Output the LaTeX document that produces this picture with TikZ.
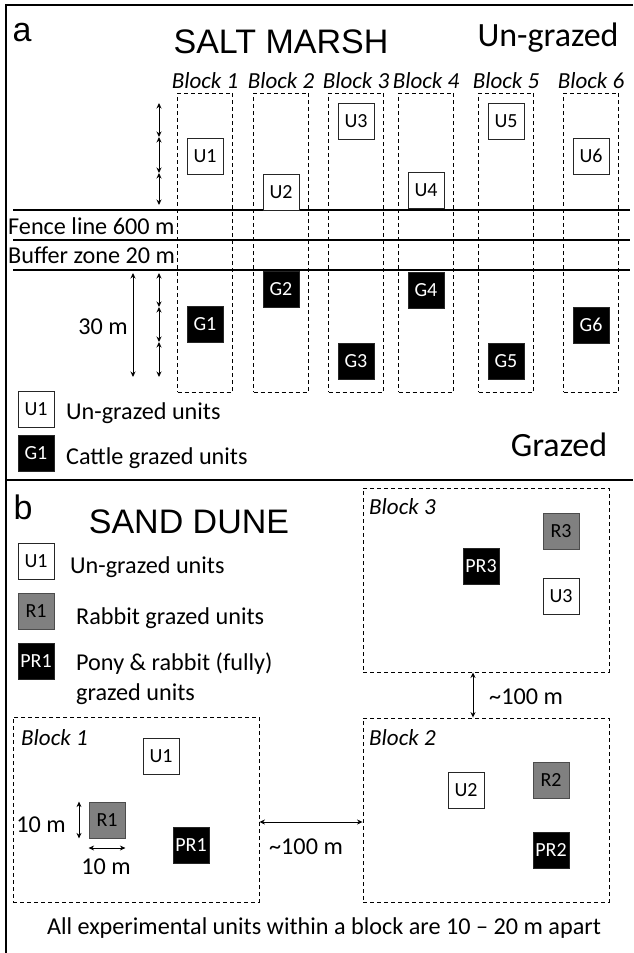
\documentclass[tikz,border=0pt]{standalone}
\usepackage{fontspec}
\setmainfont{Carlito}
\newfontfamily\headfont{Liberation Sans}
\usetikzlibrary{arrows.meta,positioning}
\tikzset{
  plot unit/.style={draw=black!85,line width=0.8pt,minimum size=36pt,inner sep=0pt,font=\fontsize{20}{22}\selectfont},
  plot open/.style={plot unit,fill=white},
  plot rabbit/.style={plot unit,fill=black!50,draw=black!70},
  plot full/.style={plot unit,fill=black,text=white},
  plot block/.style={draw,dash pattern=on 4pt off 3pt,line width=0.9pt,inner sep=0pt},
  plot label/.style={font=\fontsize{23}{28}\selectfont\itshape,inner sep=0pt},
  plot text/.style={font=\fontsize{24.2}{30}\selectfont,inner sep=0pt},
  plot head/.style={font=\headfont\fontsize{34}{40}\selectfont,inner sep=0pt},
  plot big/.style={font=\fontsize{34}{40}\selectfont,inner sep=0pt},
  plot dim/.style={line width=1pt,{Stealth[length=5.5pt,width=5pt]}-{Stealth[length=5.5pt,width=5pt]}},
  plot fence/.style={line width=1.2pt},
  plot frame/.style={line width=2.4pt}
}
\begin{document}
\begin{tikzpicture}[x=1pt,y=-1pt]
  \useasboundingbox (0,0) rectangle (633,953);
  \draw[plot frame] (6,953) -- (6,5) -- (633,5);
  \draw[plot frame] (6,480) -- (633,480);

  % salt marsh
  \node[plot head] (lbla) at (22,33) {a};
  \node[plot head] (saltmarsh) at (281,42) {SALT MARSH};
  \node[plot big] (ungrazedhd) at (548,38) {Un-grazed};
  \node[plot big] (grazedhd) at (559,445) {Grazed};
  \foreach \i/\x/\uy/\gy in {1/205/156/324,2/281/192/289,3/356/121/361,4/426/190/290,5/506/121/361,6/591/156/325}{
    \node[plot block,minimum width=55pt,minimum height=299pt] (blk\i) at (\x,242.5) {};
    \node[plot label] (blklbl\i) at (\x,81) {Block \i};
  }
  \draw[plot fence] (13,210) -- (630,210);
  \draw[plot frame] (13,240) -- (630,240);
  \draw[plot fence] (13,270) -- (630,270);
  \foreach \i/\x/\uy/\gy in {1/205/156/324,2/281/192/289,3/356/121/361,4/426/190/290,5/506/121/361,6/591/156/325}{
    \node[plot open] (u\i) at (\x,\uy) {U\i};
    \node[plot full] (g\i) at (\x,\gy) {G\i};
  }
  \node[plot text,anchor=west] (fence) at (8,226) {Fence line 600 m};
  \node[plot text,anchor=west] (buffer) at (8,255) {Buffer zone 20 m};

  \foreach \k/\y in {0/103,1/137,2/173,3/205}{\coordinate (t\k) at (159,\y);}
  \foreach \k/\y in {0/273,1/307,2/342,3/377}{\coordinate (b\k) at (159,\y);}
  \coordinate (l0) at (133,273);
  \coordinate (l1) at (133,377);
  \draw[plot dim] (t0) -- (t1);
  \draw[plot dim] (t1) -- (t2);
  \draw[plot dim] (t2) -- (t3);
  \draw[plot dim] (b0) -- (b1);
  \draw[plot dim] (b1) -- (b2);
  \draw[plot dim] (b2) -- (b3);
  \draw[plot dim] (l0) -- (l1);
  \node[plot text,anchor=east] (thirty) at (128,327) {30 m};

  \node[plot open] (keyu) at (36,409) {U1};
  \node[plot text,anchor=west] (keyutxt) at (66,413) {Un-grazed units};
  \node[plot full] (keyg) at (36,453) {G1};
  \node[plot text,anchor=west] (keygtxt) at (66,458) {Cattle grazed units};

  % sand dune
  \node[plot head] (lblb) at (23,507) {b};
  \node[plot head] (sanddune) at (189,522) {SAND DUNE};
  \node[plot open] (keyu2) at (36,561) {U1};
  \node[plot text,anchor=west] (keyu2txt) at (70,567) {Un-grazed units};
  \node[plot rabbit] (keyr) at (36,611) {R1};
  \node[plot text,anchor=west] (keyrtxt) at (76,618) {Rabbit grazed units};
  \node[plot full] (keypr) at (36,661) {PR1};
  \node[plot text,anchor=north west,align=left] (keyprtxt) at (76,653) {Pony \& rabbit (fully)\\grazed units};

  \node[plot block,minimum width=246pt,minimum height=184pt] (dune3) at (486,580) {};
  \node[plot block,minimum width=246pt,minimum height=184pt] (dune2) at (486,810) {};
  \node[plot block,minimum width=246pt,minimum height=185pt] (dune1) at (136,809.5) {};
  \node[plot label,anchor=west] (dlbl3) at (369,507) {Block 3};
  \node[plot label,anchor=west] (dlbl2) at (369,738) {Block 2};
  \node[plot label,anchor=west] (dlbl1) at (21,738) {Block 1};

  \node[plot rabbit] (r3) at (561,531) {R3};
  \node[plot full] (pr3) at (481,566) {PR3};
  \node[plot open] (du3) at (561,596) {U3};
  \node[plot open] (du2) at (466,790) {U2};
  \node[plot rabbit] (r2) at (551,780) {R2};
  \node[plot full] (pr2) at (551,850) {PR2};
  \node[plot open] (du1) at (161,756) {U1};
  \node[plot rabbit] (r1) at (107,820) {R1};
  \node[plot full] (pr1) at (191,845) {PR1};

  \draw[plot dim] (dune3.south -| 473,0) -- (dune2.north -| 473,0);
  \node[plot text,anchor=west] (gapv) at (489,697) {\textasciitilde100 m};
  \draw[plot dim] (dune1.east |- 0,822) -- (dune2.west |- 0,822);
  \node[plot text] (gaph) at (306,847) {\textasciitilde100 m};

  \draw[plot dim] (r1.north west -| 79,0) -- (r1.south west -| 79,0);
  \node[plot text,anchor=east] (sidev) at (66,825) {10 m};
  \draw[plot dim] (r1.south west |- 0,848) -- (r1.south east |- 0,848);
  \node[plot text] (sideh) at (106,867) {10 m};

  \node[plot text] (note) at (324,928) {All experimental units within a block are 10 -- 20 m apart};
\end{tikzpicture}
\end{document}
